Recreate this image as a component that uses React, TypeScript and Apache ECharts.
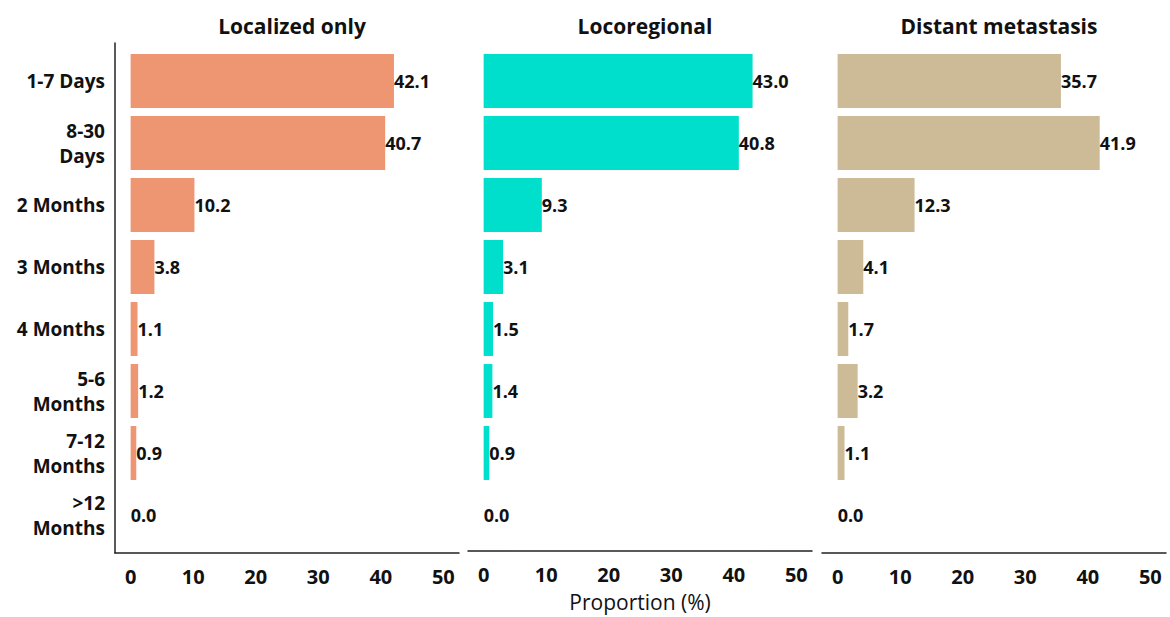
import React, { useEffect, useRef } from "react";
import * as echarts from "echarts";

const categories = [
  "1-7 Days",
  "8-30\nDays",
  "2 Months",
  "3 Months",
  "4 Months",
  "5-6\nMonths",
  "7-12\nMonths",
  ">12\nMonths",
];
const panelTitles = ["Localized only", "Locoregional", "Distant metastasis"];
const localized = [42.1, 40.7, 10.2, 3.8, 1.1, 1.2, 0.9, 0.0];
const locoregional = [43.0, 40.8, 9.3, 3.1, 1.5, 1.4, 0.9, 0.0];
const distant = [35.7, 41.9, 12.3, 4.1, 1.7, 3.2, 1.1, 0.0];
const colors = ["#EE9572", "#00DFCB", "#CDBA96"];
const xTicks = [0, 10, 20, 30, 40, 50];

const FONT = "Open Sans";

export default function App() {
  const ref = useRef<HTMLDivElement>(null);
  useEffect(() => {
    document.body.style.margin = "0";
    const chart = echarts.init(ref.current!, null, { renderer: "svg" });
    const lefts = [115, 468, 822];
    const width = 344;
    const seriesData = [localized, locoregional, distant];
    const grids: any[] = [];
    const xAxes: any[] = [];
    const yAxes: any[] = [];
    const series: any[] = [];
    const titles: any[] = [];
    lefts.forEach((left, i) => {
      // frame grid (axis lines + tick labels)
      grids.push({ left, width, top: 43, height: 510 });
      // bar grid
      grids.push({ left, width, top: 50, height: 496 });
      const fg = i * 2;
      const bg = i * 2 + 1;
      xAxes.push({
        gridIndex: fg,
        type: "value",
        min: -2.5,
        max: 52.5,
        interval: 2.5,
        axisLine: { show: true, onZero: false, lineStyle: { color: "#222", width: 1.5 } },
        axisTick: { show: false },
        splitLine: { show: false },
        axisLabel: {
          show: true,
          margin: 13,
          color: "#111",
          fontFamily: FONT,
          fontWeight: "bold",
          fontSize: 20,
          showMinLabel: true,
          showMaxLabel: true,
          formatter: (v: number) => (xTicks.includes(Math.round(v * 100) / 100) ? String(v) : ""),
        },
        name: i === 1 ? "Proportion (%)" : "",
        nameLocation: "middle",
        nameGap: 40,
        nameTextStyle: { fontFamily: FONT, fontSize: 21, color: "#111" },
      });
      yAxes.push({
        gridIndex: fg,
        type: "value",
        min: 0,
        max: 1,
        axisLine: { show: i === 0, onZero: false, lineStyle: { color: "#222", width: 1.5 } },
        axisTick: { show: false },
        axisLabel: { show: false },
        splitLine: { show: false },
      });
      xAxes.push({
        gridIndex: bg,
        type: "value",
        min: -2.5,
        max: 52.5,
        show: false,
      });
      yAxes.push({
        gridIndex: bg,
        type: "category",
        data: categories,
        inverse: true,
        axisLine: { show: false },
        axisTick: { show: false },
        splitLine: { show: false },
        axisLabel: {
          show: i === 0,
          margin: 10,
          color: "#111",
          fontFamily: FONT,
          fontWeight: "bold",
          fontSize: 19,
          lineHeight: 25,
          align: "right",
          padding: [4, 0, 0, 0],
        },
      });
      series.push({
        type: "bar",
        xAxisIndex: bg,
        yAxisIndex: bg,
        data: seriesData[i],
        barWidth: "87%",
        itemStyle: { color: colors[i] },
        label: {
          show: true,
          position: "right",
          distance: 0,
          color: "#111",
          fontFamily: FONT,
          fontWeight: "bold",
          fontSize: 18,
          padding: [0, 0, 5, 0],
          formatter: (p: any) => Number(p.value).toFixed(1),
        },
      });
      titles.push({
        text: panelTitles[i],
        left: left + width / 2,
        top: 10,
        textAlign: "center",
        textStyle: { fontFamily: FONT, fontWeight: "bold", fontSize: 21, color: "#111" },
      });
    });
    chart.setOption({
      animation: false,
      backgroundColor: "#fff",
      title: titles,
      grid: grids,
      xAxis: xAxes,
      yAxis: yAxes,
      series,
    });
    return () => chart.dispose();
  }, []);
  return <div ref={ref} style={{ width: 1170, height: 617 }} />;
}
